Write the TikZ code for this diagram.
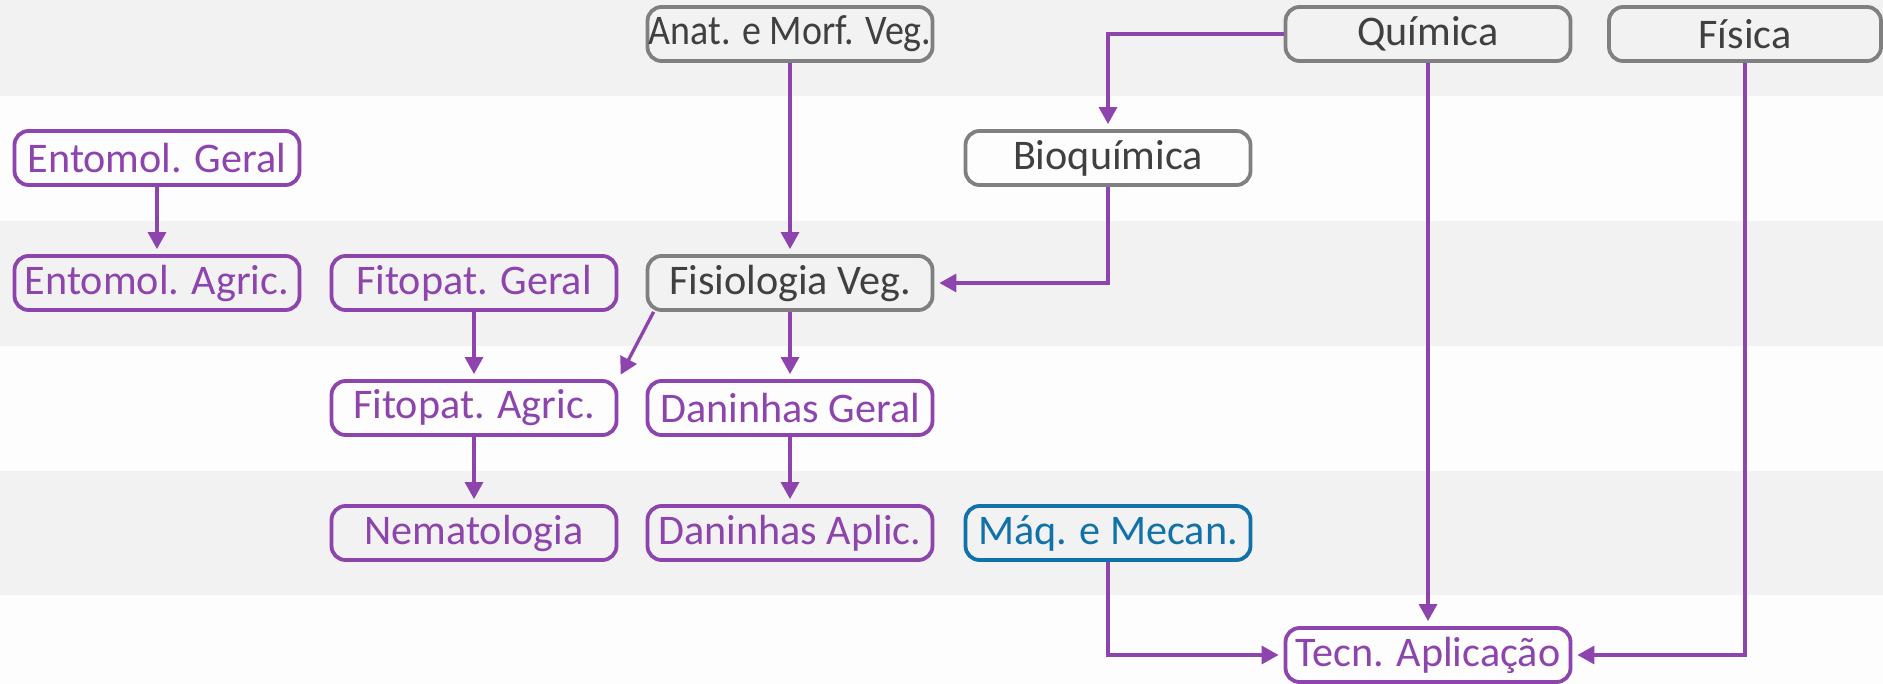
\documentclass[tikz,border=0pt]{standalone}
\usepackage{fontspec}
\setmainfont{Carlito}
\usetikzlibrary{arrows.meta}

\definecolor{purp}{RGB}{142,68,173}
\definecolor{gline}{RGB}{128,128,128}
\definecolor{gtext}{RGB}{64,64,64}
\definecolor{blu}{RGB}{16,114,168}
\definecolor{bandg}{RGB}{242,242,242}
\definecolor{bandw}{RGB}{253,253,253}

\tikzset{
  box/.style={draw, rounded corners=1.4mm, line width=0.38mm, minimum width=28.5mm,
    minimum height=5.4mm, inner sep=0pt, font=\fontsize{12}{14}\selectfont},
  gbox/.style={box, draw=gline, text=gtext},
  pbox/.style={box, draw=purp, text=purp},
  bbox/.style={box, draw=blu, text=blu},
  link/.style={draw=purp, line width=0.33mm, -{Triangle[width=1.8mm,length=1.7mm]},
    shorten >=0.5mm}
}

\begin{document}
\begin{tikzpicture}[x=0.1mm, y=-0.1mm]

  \useasboundingbox (0,0) rectangle (1883,684);

  % background bands
  \fill[bandg] (0,0) rectangle (1883,96);
  \fill[bandw] (0,96) rectangle (1883,221);
  \fill[bandg] (0,221) rectangle (1883,346);
  \fill[bandw] (0,346) rectangle (1883,471);
  \fill[bandg] (0,471) rectangle (1883,595);
  \fill[bandw] (0,595) rectangle (1883,684);

  % top row
  \node[gbox] (anat) at (790,34) {\scalebox{0.9}[1]{Anat. e Morf. Veg.}};
  \node[gbox] (quim) at (1428,34) {Química};
  \node[gbox, minimum width=27.2mm] (fis) at (1745,34) {Física}; % right edge of page
  % second row
  \node[pbox] (entg) at (157,158) {Entomol. Geral};
  \node[gbox] (bioq) at (1108,158) {Bioquímica};
  % third row
  \node[pbox] (enta) at (157,283) {Entomol. Agric.};
  \node[pbox] (fitg) at (474,283) {Fitopat. Geral};
  \node[gbox] (fisio) at (790,283) {Fisiologia Veg.};
  % fourth row
  \node[pbox] (fita) at (474,408) {Fitopat. Agric.};
  \node[pbox] (dang) at (790,408) {Daninhas Geral};
  % fifth row
  \node[pbox] (nema) at (474,533) {Nematologia};
  \node[pbox] (dana) at (790,533) {Daninhas Aplic.};
  \node[bbox] (maq) at (1108,533) {Máq. e Mecan.};
  % bottom row
  \node[pbox] (tecn) at (1428,655) {Tecn. Aplicação};

  % links
  \draw[link] (anat) -- (fisio);
  \draw[link] (quim.west) -| (bioq);
  \draw[link] (bioq) |- (fisio);
  \draw[link] (quim) -- (tecn);
  \draw[link] (fis) |- (tecn);
  \draw[link] (maq) |- (tecn);
  \draw[link] (entg) -- (enta);
  \draw[link] (fitg) -- (fita);
  \draw[link] ([xshift=0.8mm]fisio.south west) -- (fita.north east);
  \draw[link] (fisio) -- (dang);
  \draw[link] (fita) -- (nema);
  \draw[link] (dang) -- (dana);
\end{tikzpicture}
\end{document}
